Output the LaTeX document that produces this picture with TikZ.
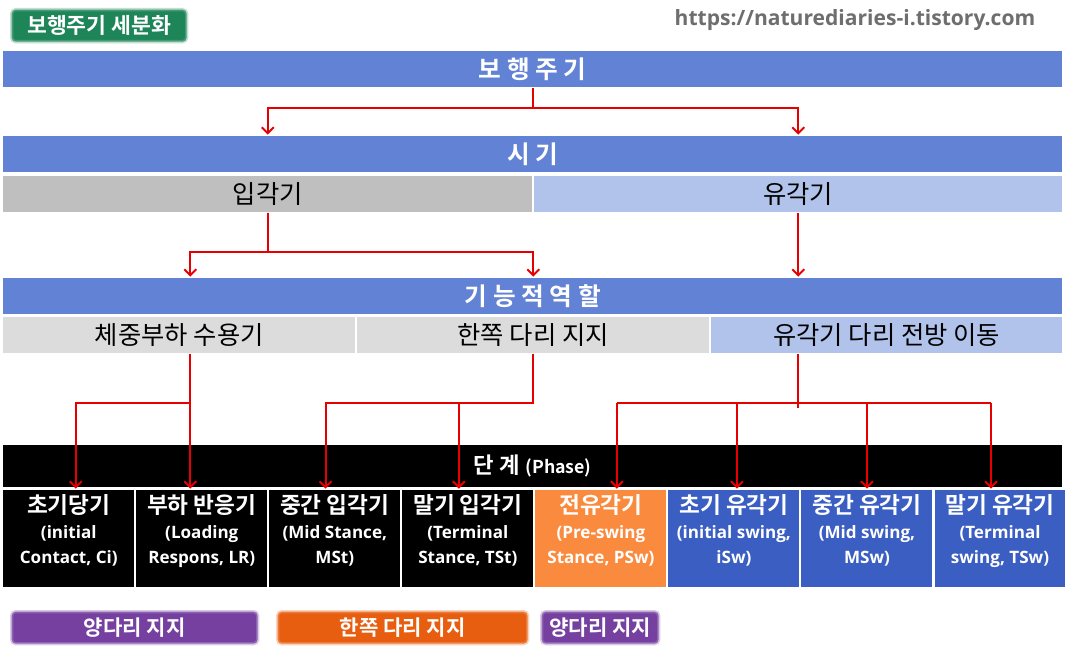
\documentclass[tikz,border=0pt]{standalone}
\usepackage{fontspec}
\setmainfont{Open Sans}
\newfontfamily\kr{Noto Sans CJK KR}[BoldFont={Noto Sans CJK KR Bold}]
\usepackage{xcolor}
\usepackage{tikz}
\usetikzlibrary{arrows.meta, positioning}

\definecolor{barblue}{HTML}{6282D5}
\definecolor{stancegray}{HTML}{BFBFBF}
\definecolor{swingblue}{HTML}{B1C3EA}
\definecolor{rolegray}{HTML}{DCDCDC}
\definecolor{phaseblue}{HTML}{3A5EC2}
\definecolor{phaseorange}{HTML}{FA8B3E}
\definecolor{linkred}{HTML}{E60000}
\definecolor{badgegreen}{HTML}{1E8558}
\definecolor{badgepurple}{HTML}{7540A0}
\definecolor{badgeorange}{HTML}{E85E10}
\definecolor{urlgray}{HTML}{6E6E6E}

\newcommand{\phasetitle}[1]{{\kr\fontsize{17}{19}\selectfont #1}}

\begin{document}
\begin{tikzpicture}[
        x=0.75pt, y=-0.75pt,
        bar/.style={rectangle, fill=barblue, text=white, font=\kr\bfseries\fontsize{18.5}{21}\selectfont, minimum width=794.25pt, minimum height=27pt, inner sep=0pt, anchor=north west},
        cell/.style={rectangle, text=black, font=\kr\fontsize{19}{21}\selectfont, minimum height=27pt, inner sep=0pt, anchor=north west},
        phasebox/.style={rectangle, text=white, align=center, font=\bfseries\fontsize{12.8}{18.75}\selectfont, minimum width=98.25pt, minimum height=72.75pt, inner sep=0pt, text depth=15pt},
        badge/.style={rectangle, rounded corners=3pt, text=white, font=\kr\bfseries\fontsize{15.8}{18}\selectfont, minimum height=24pt, inner sep=0pt, anchor=north west, line width=2.5pt, draw opacity=0.45},
        link/.style={draw=linkred, line width=1.5pt, -{Straight Barb[length=4.5pt, width=9pt]}, shorten >=1pt},
        wire/.style={draw=linkred, line width=1.5pt}
        ]
        \fill[white] (0,0) rectangle (1065,652);
        \useasboundingbox (0,0) rectangle (1065,652);

        % Title and source
        \node[badge, fill=badgegreen, draw=badgegreen!60, minimum width=131.25pt, font=\kr\bfseries\fontsize{16.2}{18}\selectfont] (title) at (10,8) {보행주기 세분화};
        \node[anchor=east, text=urlgray, font=\bfseries\fontsize{15.8}{18}\selectfont] (url) at (1040,20) {https://naturediaries-i.tistory.com};

        % Rows
        \node[bar] (cycle) at (3,51) {보 행 주 기};
        \node[bar] (period) at (3,136) {시 기};
        \node[cell, fill=stancegray, minimum width=396.75pt] (stance) at (3,176) {입각기};
        \node[cell, fill=swingblue, minimum width=396pt] (swing) at (534,176) {유각기};
        \node[bar] (role) at (3,278) {기 능 적 역 할};
        \node[cell, fill=rolegray, minimum width=264pt] (weight) at (3,317) {체중부하 수용기};
        \node[cell, fill=rolegray, minimum width=264pt] (single) at (357,317) {한쪽 다리 지지};
        \node[cell, fill=swingblue, minimum width=263.25pt] (advance) at (711,317) {유각기 다리 전방 이동};
        \node[bar, fill=black, minimum height=31.5pt] (phase) at (3,445) {{\kr\fontsize{16.7}{19}\selectfont 단 계} {\fontsize{13.3}{15}\selectfont (Phase)}};

        % Phases
        \node[phasebox, fill=black, anchor=north west] (ic) at (3,490) {\phasetitle{초기당기}\\(initial\\Contact, Ci)};
        \node[phasebox, fill=black, right=1.125pt of ic] (lr) {\phasetitle{부하 반응기}\\(Loading\\Respons, LR)};
        \node[phasebox, fill=black, right=1.125pt of lr] (mst) {\phasetitle{중간 입각기}\\(Mid Stance,\\MSt)};
        \node[phasebox, fill=black, right=1.125pt of mst] (tst) {\phasetitle{말기 입각기}\\(Terminal\\Stance, TSt)};
        \node[phasebox, fill=phaseorange, right=1.125pt of tst] (psw) {\phasetitle{전유각기}\\(Pre-swing\\Stance, PSw)};
        \node[phasebox, fill=phaseblue, right=1.125pt of psw] (isw) {\phasetitle{초기 유각기}\\(initial swing,\\iSw)};
        \node[phasebox, fill=phaseblue, right=1.125pt of isw] (msw) {\phasetitle{중간 유각기}\\(Mid swing,\\MSw)};
        \node[phasebox, fill=phaseblue, right=1.125pt of msw] (tsw) {\phasetitle{말기 유각기}\\(Terminal\\swing, TSw)};

        % Support badges
        \node[badge, fill=badgepurple, draw=badgepurple!60, minimum width=184.5pt] (double1) at (10,610) {양다리 지지};
        \node[badge, fill=badgeorange, draw=badgeorange!60, minimum width=187.5pt] (oneleg) at (276,610) {한쪽 다리 지지};
        \node[badge, fill=badgepurple, draw=badgepurple!60, minimum width=87.75pt] (double2) at (540,610) {양다리 지지};

        % Links
        \draw[link] (cycle.south) -- ++(0,20) -| (stance.north |- period.north);
        \draw[link] (cycle.south) -- ++(0,20) -| (swing.north |- period.north);

        \coordinate (w) at ([xshift=8.25pt]weight.south);
        \draw[link] (stance.south) -- ++(0,39) -| (w |- role.north);
        \draw[link] (stance.south) -- ++(0,39) -| (single.north |- role.north);
        \draw[link] (swing.south) -- (swing.south |- role.north);

        \draw[link] (w) -- ++(0,49) -| ([xshift=5.25pt]ic.north);
        \draw[link] (w) -- (w |- lr.north);
        \draw[link] (single.south) -- ++(0,49) coordinate (sj) -| ([xshift=-7pt]mst.north);
        \coordinate (t4) at ([xshift=-6.75pt]tst.north);
        \draw[link] (t4 |- sj) -- (t4);

        \coordinate (p5) at ([xshift=12pt]psw.north);
        \coordinate (p6) at ([xshift=2.25pt]isw.north);
        \coordinate (p8) at ([xshift=-6.75pt]tsw.north);
        \draw[wire] (advance.south -| swing.south) -- ++(0,54);
        \draw[wire] (p5 |- sj) -- (p8 |- sj);
        \draw[link] (p5 |- sj) -- (p5);
        \draw[link] (p6 |- sj) -- (p6);
        \draw[link] (msw.north |- sj) -- (msw.north);
        \draw[link] (p8 |- sj) -- (p8);
\end{tikzpicture}
\end{document}
